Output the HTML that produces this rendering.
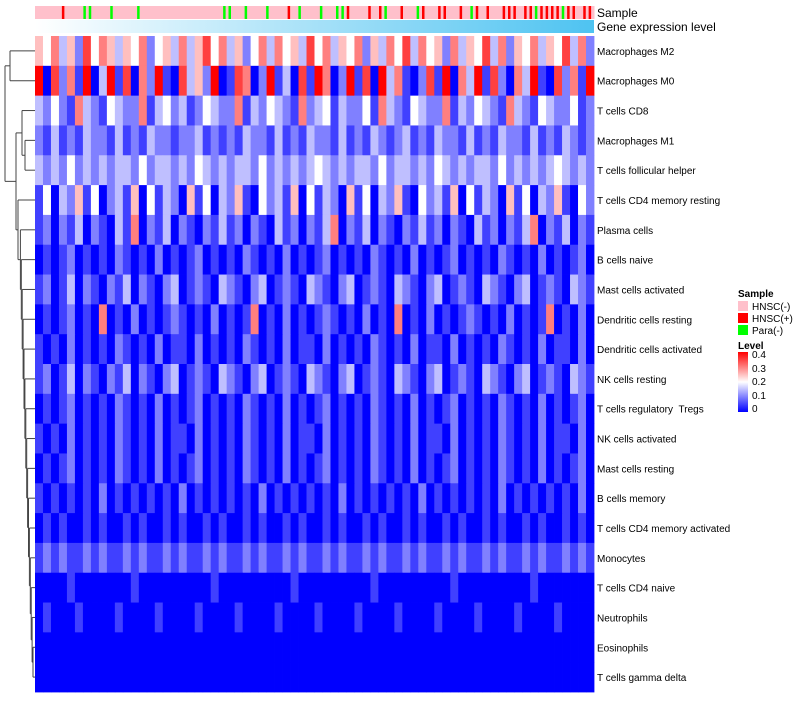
<!DOCTYPE html>
<html><head><meta charset="utf-8"><style>
body{margin:0;background:#fff;font-family:"Liberation Sans",sans-serif}
svg text{font-family:"Liberation Sans",sans-serif;white-space:pre}
</style></head><body>
<svg id="c" width="800" height="700" xmlns="http://www.w3.org/2000/svg">
<defs>
<linearGradient id="gl" x1="0" x2="1" y1="0" y2="0"><stop offset="0" stop-color="#ffffff"/><stop offset="1" stop-color="#4ec3f1"/></linearGradient>
<linearGradient id="lv" x1="0" x2="0" y1="1" y2="0"><stop offset="0" stop-color="#0000ff"/><stop offset="0.5" stop-color="#ffffff"/><stop offset="1" stop-color="#ff0000"/></linearGradient>
</defs>
<rect x="35" y="20" width="559" height="13" fill="url(#gl)"/>
<text x="597" y="17" font-size="12">Sample</text>
<text x="597" y="31" font-size="12">Gene expression level</text>
<g>
<text x="738" y="297" font-size="10" font-weight="bold">Sample</text>
<rect x="738" y="301" width="10" height="10" fill="#ffc0cb"/>
<text x="752" y="310" font-size="10">HNSC(-)</text>
<rect x="738" y="313" width="10" height="10" fill="#ff0000"/>
<text x="752" y="322" font-size="10">HNSC(+)</text>
<rect x="738" y="325" width="10" height="10" fill="#00ff00"/>
<text x="752" y="334" font-size="10">Para(-)</text>
<text x="738" y="349" font-size="10" font-weight="bold">Level</text>
<rect x="738" y="352" width="10" height="60" fill="url(#lv)"/>
<text x="752" y="358" font-size="10">0.4</text>
<text x="752" y="372" font-size="10">0.3</text>
<text x="752" y="385" font-size="10">0.2</text>
<text x="752" y="399" font-size="10">0.1</text>
<text x="752" y="412" font-size="10">0</text>
</g>
</svg>
<script>
const rowNames=["Macrophages M2","Macrophages M0","T cells CD8","Macrophages M1","T cells follicular helper","T cells CD4 memory resting","Plasma cells","B cells naive","Mast cells activated","Dendritic cells resting","Dendritic cells activated","NK cells resting","T cells regulatory \u00a0Tregs","NK cells activated","Mast cells resting","B cells memory","T cells CD4 memory activated","Monocytes","T cells CD4 naive","Neutrophils","Eosinophils","T cells gamma delta"];
// each digit d => level d*0.05 (0..0.4)
const rowLevels=[
"5463527465354624536357463524636453746354625364736452635473625463547362",
"8072618038170628107352801760281307186028170836102718063817206381072618",
"3242163214322613423124322613243216234132241632143226132432163214322412",
"2131213221312132212231212132213121322131213212312132213121322131213212",
"3232423232332423323243232332423232343232332423323243232332423232343232",
"1403251402315041320514032510423150413205140325104231504132051403251042",
"1202130210316021302102131202103120213602130210213120210312021360213021",
"0101201010210102010120101021010201012010102101020101201010210102010120",
"1201302102130210230121032102301210321023012103210230121032102301210321",
"0101201060102010121010201016010201012101020106010201012101020101601020",
"1010201010210102011020101021010201102010102101020110201010210102011020",
"1201302102130210230121032102301210321023012103210230121032102301210321",
"0101201010210102010120101021010201012010102101020101201010210102010120",
"1010201010210102011020101021010201102010102101020110201010210102011020",
"0101201010210102010120101021010201012010102101020101201010210102010120",
"1010101020101010102010101010201010101020101010102010101010201010101020",
"0101001010010100101001010010100101001010010100101001010010100101001010",
"1212112121121211212112121121211212112121121211212112121121211212112121",
"0000100000001000000000100000000010000000001000000000100000000010000000",
"0100010000100001000010000100001000010000100001000010000100001000010000",
"0000000000000000000000000000000000000000000000000000000000000000000000",
"0000000000000000000000000000000000000000000000000000000000000000000000"];
// sample classes per column band: p=HNSC(-), r=HNSC(+), g=Para(-)
const sampleClass="ppppprpppggpppgppppgpppppppppppppppggppgpppgppprpgpppgppggrppprprgpprppgrpprrpprpgrprpprrrprrgrrrrgrrprr";
const svg=document.getElementById('c');
const NS='http://www.w3.org/2000/svg';
const X0=35,X1=594,Y0=36,Y1=692;
const nRows=rowNames.length,nCols=rowLevels[0].length;
const rowH=(Y1-Y0)/nRows,colW=(X1-X0)/nCols;
function xScale(i,n){return X0+i*(X1-X0)/n;}
function yScale(r){return Y0+r*rowH;}
function color(v){const t=Math.max(0,Math.min(1,v/0.4));let r,g,b;
 if(t<0.5){const k=t/0.5;r=Math.round(255*k);g=r;b=255;}else{const k=(t-0.5)/0.5;r=255;g=Math.round(255*(1-k));b=g;}
 return `rgb(${r},${g},${b})`;}
const sCols={p:'#ffc0cb',r:'#ff0000',g:'#00ff00'};
const sg=document.createElementNS(NS,'g');


svg.appendChild(sg);
for(let i=0;i<sampleClass.length;i++){const rc=document.createElementNS(NS,'rect');
 const x=xScale(i,sampleClass.length),w=xScale(i+1,sampleClass.length)-x;
 const c=sampleClass[i];const ww=c==='p'?w+0.5:Math.min(w,2.5);
 rc.setAttribute('x',x);rc.setAttribute('y',6);rc.setAttribute('width',ww);rc.setAttribute('height',13);rc.setAttribute('fill',sCols[c]);
 
 
 if(c!=='p'){const bg=document.createElementNS(NS,'rect');bg.setAttribute('x',x);bg.setAttribute('y',6);bg.setAttribute('width',w+0.5);bg.setAttribute('height',13);bg.setAttribute('fill',sCols.p);
 
 
 sg.appendChild(bg);}
 sg.appendChild(rc);}
const hg=document.createElementNS(NS,'g');


svg.appendChild(hg);
for(let r=0;r<nRows;r++){for(let c=0;c<nCols;c++){const v=parseInt(rowLevels[r][c])*0.05;
 const rc=document.createElementNS(NS,'rect');const x=xScale(c,nCols);
 rc.setAttribute('x',x);rc.setAttribute('y',yScale(r));rc.setAttribute('width',colW+0.4);rc.setAttribute('height',rowH+0.4);rc.setAttribute('fill',color(v));
 
 
 hg.appendChild(rc);}
 const t=document.createElementNS(NS,'text');t.setAttribute('x',597);t.setAttribute('y',yScale(r)+rowH/2+4);t.setAttribute('font-size','10');t.textContent=rowNames[r];
 
 
 svg.appendChild(t);}
// dendrogram
const dg=document.createElementNS(NS,'g');


svg.appendChild(dg);
function line(x1,y1,x2,y2){const l=document.createElementNS(NS,'line');l.setAttribute('x1',x1);l.setAttribute('y1',y1);l.setAttribute('x2',x2);l.setAttribute('y2',y2);l.setAttribute('stroke','#444');l.setAttribute('stroke-width','1');
 
 
 dg.appendChild(l);}
function cy(r){return yScale(r)+rowH/2;}
function join(a,b,x){line(a.x,a.y,x,a.y);line(b.x,b.y,x,b.y);line(x,a.y,x,b.y);return {x:x,y:(a.y+b.y)/2};}
const leaf=r=>({x:X0,y:cy(r)});
const A=join(leaf(0),leaf(1),10);
const C1=join(leaf(3),leaf(4),25);
const C2=join(leaf(2),C1,22);
let R=join(leaf(20),leaf(21),33);
for(let r=19;r>=6;r--){R=join(leaf(r),R,Math.max(20,33-(20-r)*0.9));}
R=join(leaf(5),R,18);
const B=join(C2,R,16);
join(A,B,5);
</script>
</body></html>
